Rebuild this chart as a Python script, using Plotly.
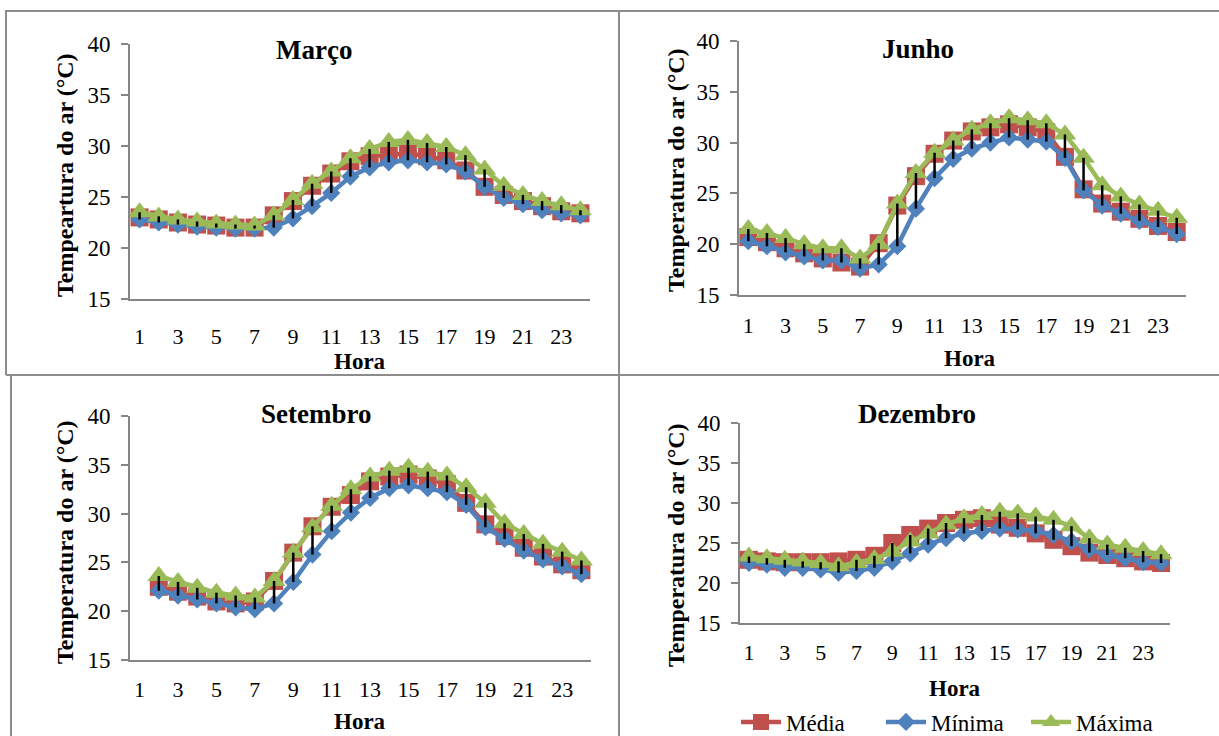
import plotly.graph_objects as go

# ---------------- data ----------------
HOURS = list(range(1, 25))
TICK_HOURS = list(range(1, 24, 2))
SERIES_NAMES = ["Média", "Mínima", "Máxima"]

MARCO_MEDIA = [23.0, 22.8, 22.5, 22.3, 22.2, 22.0, 22.0, 23.2, 24.6, 26.1, 27.3, 28.5,
               29.0, 29.1, 29.3, 29.0, 28.6, 27.6, 26.0, 25.2, 24.6, 24.1, 23.6, 23.4]
MARCO_MIN = [22.8, 22.5, 22.3, 22.1, 22.0, 21.9, 21.9, 22.0, 22.9, 24.1, 25.4, 27.0,
             27.9, 28.4, 28.6, 28.4, 28.2, 27.5, 26.0, 24.9, 24.3, 23.7, 23.4, 23.2]
MARCO_MAX = [23.5, 23.1, 22.8, 22.6, 22.4, 22.3, 22.2, 23.2, 24.7, 26.3, 27.5, 28.8,
             29.7, 30.4, 30.6, 30.3, 29.9, 29.1, 27.7, 26.1, 25.2, 24.6, 24.2, 23.7]

JUNHO_MEDIA = [20.7, 20.2, 19.6, 19.1, 18.6, 18.2, 17.8, 20.1, 23.8, 26.7, 28.9, 30.2,
               31.1, 31.5, 31.8, 31.5, 31.0, 28.6, 25.4, 24.0, 23.2, 22.5, 21.8, 21.2]
JUNHO_MIN = [20.3, 19.8, 19.2, 18.8, 18.4, 18.4, 17.6, 18.0, 19.8, 23.5, 26.5, 28.4,
             29.4, 30.0, 30.5, 30.3, 30.1, 28.5, 25.3, 23.8, 23.0, 22.3, 21.7, 21.0]
JUNHO_MAX = [21.5, 21.1, 20.6, 20.0, 19.6, 19.6, 18.6, 20.0, 24.0, 27.0, 29.0, 30.2,
             31.3, 31.9, 32.4, 32.2, 31.9, 30.8, 28.5, 25.8, 24.7, 23.9, 23.3, 22.6]

SET_MEDIA = [None, 22.5, 22.0, 21.5, 21.0, 20.8, 21.0, 23.1, 26.0, 28.7, 30.7, 31.9,
             33.3, 33.8, 34.0, 33.6, 33.0, 31.1, 28.9, 27.7, 26.5, 25.6, 24.8, 24.2]
SET_MIN = [None, 22.1, 21.6, 21.2, 20.8, 20.4, 20.2, 20.8, 23.0, 25.8, 28.2, 30.1,
           31.6, 32.6, 32.9, 32.6, 32.2, 30.9, 28.6, 27.4, 26.2, 25.3, 24.6, 23.8]
SET_MAX = [None, 23.6, 23.0, 22.4, 21.9, 21.6, 21.4, 23.1, 26.0, 28.6, 30.8, 32.5,
           33.8, 34.4, 34.7, 34.3, 33.9, 32.7, 31.1, 29.0, 27.9, 26.9, 26.1, 25.2]

DEZ_MEDIA = [22.9, 22.7, 22.6, 22.6, 22.6, 22.7, 22.9, 23.4, 25.0, 26.0, 26.8, 27.5,
             27.9, 28.1, 27.3, 26.9, 26.2, 25.4, 24.6, 23.8, 23.5, 23.1, 22.7, 22.5]
DEZ_MIN = [22.5, 22.3, 21.9, 21.9, 21.7, 21.3, 21.5, 21.9, 22.7, 23.7, 24.8, 25.6,
           26.2, 26.5, 26.8, 26.7, 26.5, 26.0, 25.2, 24.2, 23.5, 23.1, 22.6, 22.5]
DEZ_MAX = [23.3, 23.1, 22.9, 22.7, 22.5, 22.1, 22.5, 23.0, 23.9, 25.2, 26.2, 27.3,
           28.1, 28.5, 28.9, 28.7, 28.3, 27.9, 27.1, 25.6, 24.8, 24.4, 24.0, 23.6]

TITLES = ["Março", "Junho", "Setembro", "Dezembro"]
YTITLES = ["Tempeartura do ar (°C)", "Temperatura do ar (°C)",
           "Temperatura do ar (°C)", "Temperatura do ar (°C)"]

# ---------------- style / layout ----------------
W, H = 1219, 736
FONT = "Liberation Serif, Times New Roman, serif"
COLORS = ["#C0504D", "#4F81BD", "#9BBB59"]
SYMBOLS = ["square", "diamond", "triangle-up"]
SIZES = [18, 14, 20]
AXIS = "#868686"
BORDER = "#8c8c8c"

# plot boxes in pixels: (x0, x1, y_top, y_bottom)
BOXES = [(130, 590, 44, 299), (739, 1186, 41, 295),
         (130, 591, 416, 660), (740, 1170, 423, 623)]
XLABEL_STANDOFF = [17, 10, 9, 9]
TITLE_POS = [(314, 50), (918, 49), (316, 414), (917, 414)]
YTITLE_POS = [(65, 175), (676, 170), (65, 542), (676, 545)]
XTITLE_POS = [(360, 361), (970, 358), (360, 721), (955, 688)]

DATA = [(MARCO_MEDIA, MARCO_MIN, MARCO_MAX), (JUNHO_MEDIA, JUNHO_MIN, JUNHO_MAX),
        (SET_MEDIA, SET_MIN, SET_MAX), (DEZ_MEDIA, DEZ_MIN, DEZ_MAX)]

fig = go.Figure()
layout = {}
annotations = []

for i, (series, box) in enumerate(zip(DATA, BOXES), start=1):
    xa = "x" if i == 1 else f"x{i}"
    ya = "y" if i == 1 else f"y{i}"
    for k, vals in enumerate(series):
        fig.add_trace(go.Scatter(
            x=HOURS, y=vals, mode="lines+markers", name=SERIES_NAMES[k],
            legendgroup=SERIES_NAMES[k], showlegend=(i == 4),
            line=dict(color=COLORS[k], width=4.5),
            marker=dict(symbol=SYMBOLS[k], size=SIZES[k], color=COLORS[k]),
            xaxis=xa, yaxis=ya, cliponaxis=False))
    # high-low lines
    hx, hy = [], []
    for h, a, b, c in zip(HOURS, *series):
        vs = [v for v in (a, b, c) if v is not None]
        if not vs:
            continue
        hx += [h, h, None]
        hy += [min(vs), max(vs), None]
    fig.add_trace(go.Scatter(x=hx, y=hy, mode="lines", showlegend=False,
                             line=dict(color="black", width=2.5),
                             hoverinfo="skip", xaxis=xa, yaxis=ya))

    x0, x1, yt, yb = box
    sfx = "" if i == 1 else str(i)
    layout["xaxis" + sfx] = dict(
        domain=[x0 / W, x1 / W], range=[0.5, 24.5], tickvals=TICK_HOURS,
        showline=True, linecolor=AXIS, linewidth=2, ticks="", showgrid=False,
        zeroline=False, anchor=ya, ticklabelstandoff=XLABEL_STANDOFF[i - 1],
        tickfont=dict(size=22, family=FONT, color="black"))
    layout["yaxis" + sfx] = dict(
        domain=[1 - yb / H, 1 - yt / H], range=[15, 40], tick0=15, dtick=5,
        showline=True, linecolor=AXIS, linewidth=2, ticks="outside", ticklen=7,
        tickcolor=AXIS, tickwidth=2, showgrid=False, zeroline=False, anchor=xa,
        ticklabelstandoff=6,
        tickfont=dict(size=23, family=FONT, color="black"))

    tx, ty = TITLE_POS[i - 1]
    annotations.append(dict(text="<b>%s</b>" % TITLES[i - 1], x=tx / W, y=1 - ty / H,
                            xref="paper", yref="paper", showarrow=False,
                            xanchor="center", yanchor="middle",
                            font=dict(size=27, family=FONT, color="black")))
    yx, yy = YTITLE_POS[i - 1]
    annotations.append(dict(text="<b>%s</b>" % YTITLES[i - 1], x=yx / W, y=1 - yy / H,
                            xref="paper", yref="paper", showarrow=False, textangle=-90,
                            xanchor="center", yanchor="middle",
                            font=dict(size=24, family=FONT, color="black")))
    hx_, hy_ = XTITLE_POS[i - 1]
    annotations.append(dict(text="<b>Hora</b>", x=hx_ / W, y=1 - hy_ / H,
                            xref="paper", yref="paper", showarrow=False,
                            xanchor="center", yanchor="middle",
                            font=dict(size=23, family=FONT, color="black")))

# table-like borders
def seg(xa0, ya0, xa1, ya1):
    return dict(type="line", xref="paper", yref="paper",
                x0=xa0 / W, y0=1 - ya0 / H, x1=xa1 / W, y1=1 - ya1 / H,
                line=dict(color=BORDER, width=2))

shapes = [seg(5, 11, 1219, 11), seg(6, 11, 6, 375), seg(619, 11, 619, 736),
          seg(6, 375, 1219, 375), seg(11, 375, 11, 736)]

fig.update_layout(
    width=W, height=H, autosize=False,
    margin=dict(l=0, r=0, t=0, b=0, pad=0, autoexpand=False),
    paper_bgcolor="white", plot_bgcolor="white",
    font=dict(family=FONT, color="black"),
    annotations=annotations, shapes=shapes,
    legend=dict(orientation="h", x=736 / W, y=1 - 722 / H, xanchor="left",
                yanchor="middle", font=dict(size=23, family=FONT, color="black"),
                bgcolor="rgba(0,0,0,0)", itemwidth=40, tracegroupgap=0,
                entrywidth=90),
    showlegend=True,
    **layout)

fig.write_html("out.html", config={"displayModeBar": False},
               post_script="document.body.style.margin='0';document.body.style.overflow='hidden';")
